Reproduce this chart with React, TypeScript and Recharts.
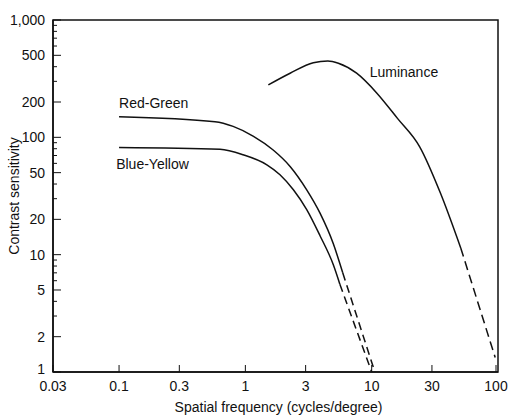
import { LineChart, Line, XAxis, YAxis, ReferenceDot, ReferenceArea, Label } from "recharts";

// plain sans like the scanned figure
const FONT = '"Liberation Sans", Arial, Helvetica, sans-serif';
const INK = "#111";

const xTicks = [0.03, 0.1, 0.3, 1, 3, 10, 30, 100];
const yMajorTicks = [1, 2, 5, 10, 20, 50, 100, 200, 500, 1000];
const yMinorTicks = [3, 4, 6, 7, 8, 9, 30, 40, 60, 70, 80, 90, 300, 400, 600, 700, 800, 900];

// values (cycles/degree, sensitivity)
const redGreen = [
  { x: 0.1, y: 150 },
  { x: 0.575, y: 136 },
  { x: 0.8, y: 124 },
  { x: 1.16, y: 102 },
  { x: 1.66, y: 78 },
  { x: 2.26, y: 56.5 },
  { x: 3.06, y: 35.7 },
  { x: 3.9, y: 22.6 },
  { x: 4.97, y: 12.4 },
  { x: 5.9, y: 7.0 },
];
const redGreenDashed = [
  { x: 5.9, y: 7.0 },
  { x: 10.6, y: 1 },
];

const blueYellow = [
  { x: 0.1, y: 82 },
  { x: 0.63, y: 79 },
  { x: 0.96, y: 71 },
  { x: 1.48, y: 58.3 },
  { x: 1.88, y: 48 },
  { x: 2.4, y: 35.7 },
  { x: 3.06, y: 24.2 },
  { x: 3.9, y: 14.5 },
  { x: 4.97, y: 8.2 },
  { x: 5.6, y: 5.6 },
];
const blueYellowDashed = [
  { x: 5.6, y: 5.6 },
  { x: 10.0, y: 1 },
];

const luminance = [
  { x: 1.52, y: 280 },
  { x: 2.26, y: 352 },
  { x: 3.45, y: 433 },
  { x: 4.5, y: 448 },
  { x: 5.45, y: 428 },
  { x: 7.6, y: 352 },
  { x: 11, y: 238 },
  { x: 16, y: 145 },
  { x: 24, y: 83 },
  { x: 35, y: 33.5 },
  { x: 50.7, y: 11.4 },
];
const luminanceDashed = [
  { x: 50.7, y: 11.4 },
  { x: 95, y: 1.33 },
];

const curveLabels = [
  { text: "Red-Green", x: 0.188, y: 195 },
  { text: "Blue-Yellow", x: 0.184, y: 59.5 },
  { text: "Luminance", x: 18, y: 361 },
];

function YTick({ x, y, payload }: any) {
  const v = payload.value;
  const major = yMajorTicks.includes(v);
  const axisX = x + 8;
  return (
    <g>
      <line x1={axisX} x2={axisX + (major ? 8 : 4)} y1={y} y2={y} stroke={INK} strokeWidth={1} />
      {major && (
        <text x={x} y={y} dy={v === 1 ? 2 : 5} textAnchor="end" fill={INK} fontSize={14} fontFamily={FONT}>
          {v.toLocaleString("en-US")}
        </text>
      )}
    </g>
  );
}

function XTick({ x, y, payload }: any) {
  const axisY = y - 6;
  return (
    <g>
      <line x1={x} x2={x} y1={axisY} y2={axisY - 7} stroke={INK} strokeWidth={1} />
      <text x={x} y={y} dy={13} textAnchor="middle" fill={INK} fontSize={14} fontFamily={FONT}>
        {payload.value}
      </text>
    </g>
  );
}

export default function App() {
  const lineProps = {
    type: "monotone" as const,
    dataKey: "y",
    stroke: INK,
    strokeWidth: 1.5,
    dot: false,
    activeDot: false,
    isAnimationActive: false,
  };
  return (
    <div style={{ position: "absolute", left: 0, top: 0, background: "#fff" }}>
      <LineChart width={508} height={416} margin={{ top: 20, right: 10, bottom: 0, left: 0 }}>
        <XAxis
          type="number"
          dataKey="x"
          scale="log"
          domain={[0.03, 100]}
          ticks={xTicks}
          allowDataOverflow
          height={44}
          tickSize={0}
          tickMargin={6}
          tickLine={false}
          tick={<XTick />}
          axisLine={{ stroke: INK, strokeWidth: 1.5 }}
        >
          <Label
            value="Spatial frequency (cycles/degree)"
            position="insideBottom"
            offset={4}
            dx={3}
            fill={INK}
            fontSize={14}
            fontFamily={FONT}
          />
        </XAxis>
        <YAxis
          type="number"
          scale="log"
          domain={[1, 1000]}
          ticks={[...yMajorTicks, ...yMinorTicks].sort((a, b) => a - b)}
          allowDataOverflow
          width={53}
          tickSize={0}
          tickMargin={8}
          tickLine={false}
          tick={<YTick />}
          interval={0}
          axisLine={{ stroke: INK, strokeWidth: 1.5 }}
        >
          <Label
            value="Contrast sensitivity"
            angle={-90}
            position="insideLeft"
            offset={14}
            style={{ textAnchor: "middle" }}
            fill={INK}
            fontSize={14}
            fontFamily={FONT}
          />
        </YAxis>
        <ReferenceArea x1={0.03} x2={100} y1={1} y2={1000} fill="none" stroke={INK} strokeWidth={1.5} />
        <Line {...lineProps} data={redGreen} />
        <Line {...lineProps} data={redGreenDashed} strokeDasharray="8 5" />
        <Line {...lineProps} data={blueYellow} />
        <Line {...lineProps} data={blueYellowDashed} strokeDasharray="8 5" />
        <Line {...lineProps} data={luminance} />
        <Line {...lineProps} data={luminanceDashed} strokeDasharray="9 5" />
        {curveLabels.map((c) => (
          <ReferenceDot
            key={c.text}
            x={c.x}
            y={c.y}
            r={0}
            fill="none"
            stroke="none"
            label={{ value: c.text, position: "center", fill: INK, fontSize: 14, fontFamily: FONT }}
          />
        ))}
      </LineChart>
    </div>
  );
}
